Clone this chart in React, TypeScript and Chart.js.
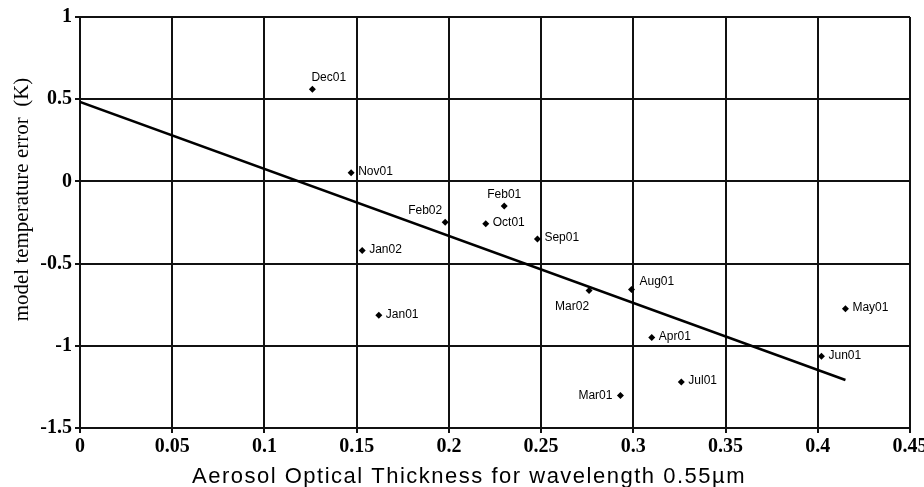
import React, { useEffect, useRef } from "react";
import { Chart, registerables } from "chart.js";

Chart.register(...registerables);

// ---- data ----
const months = ["Dec01", "Nov01", "Feb02", "Jan02", "Jan01", "Feb01", "Oct01", "Sep01", "Mar02", "Aug01", "May01", "Apr01", "Jun01", "Jul01", "Mar01"];
const aot = [0.126, 0.147, 0.198, 0.153, 0.162, 0.23, 0.22, 0.248, 0.276, 0.299, 0.415, 0.31, 0.402, 0.326, 0.293];
const tempError = [0.56, 0.053, -0.248, -0.42, -0.814, -0.15, -0.258, -0.351, -0.664, -0.658, -0.775, -0.95, -1.064, -1.22, -1.303];
// where each month label sits relative to its point
const labelPlacement = ["al", "r", "ul", "r", "r", "a", "r", "r", "bl", "ar", "r", "r", "r", "r", "l"];

const trendX = [0, 0.415];
const trendY = [0.483, -1.208];

const xTickLabels = ["0", "0.05", "0.1", "0.15", "0.2", "0.25", "0.3", "0.35", "0.4", "0.45"];
const yTickLabels = ["-1.5", "-1", "-0.5", "0", "0.5", "1"];

const xTitle = "Aerosol Optical Thickness for wavelength 0.55\u00b5m";
const yTitle = "model temperature error  (K)";

const labelOffsets: Record<string, { dx: number; dy: number; align: CanvasTextAlign }> = {
  r: { dx: 7, dy: -1, align: "left" },
  l: { dx: -8, dy: 0, align: "right" },
  a: { dx: 0, dy: -11, align: "center" },
  al: { dx: -1, dy: -12, align: "left" },
  ar: { dx: 8, dy: -8, align: "left" },
  ul: { dx: -3, dy: -11, align: "right" },
  bl: { dx: 0, dy: 16, align: "right" },
};

const annotatePlugin = {
  id: "annotate",
  afterDatasetsDraw(chart: any) {
    const ctx = chart.ctx as CanvasRenderingContext2D;
    const meta = chart.getDatasetMeta(1);
    ctx.save();
    ctx.fillStyle = "#000";
    ctx.font = '12px "Liberation Sans", Arial, sans-serif';
    ctx.textBaseline = "middle";
    meta.data.forEach((pt: any, i: number) => {
      const o = labelOffsets[labelPlacement[i]];
      ctx.textAlign = o.align;
      ctx.fillText(months[i], pt.x + o.dx, pt.y + o.dy);
    });
    ctx.restore();
  },
  afterDraw(chart: any) {
    const ctx = chart.ctx as CanvasRenderingContext2D;
    const area = chart.chartArea;
    ctx.save();
    ctx.fillStyle = "#000";
    // x title
    ctx.font = '22px "Liberation Sans", Arial, sans-serif';
    try { (ctx as any).letterSpacing = "1.5px"; } catch (e) {}
    ctx.textAlign = "center";
    ctx.textBaseline = "middle";
    ctx.fillText(xTitle, (area.left + area.right) / 2 - 26, 477);
    try { (ctx as any).letterSpacing = "0px"; } catch (e) {}
    // y title
    ctx.translate(22, area.top + (area.bottom - area.top) / 2 - 23);
    ctx.rotate(-Math.PI / 2);
    ctx.font = '21px "Liberation Serif", "Times New Roman", serif';
    ctx.fillText(yTitle, 0, 0);
    ctx.restore();
  },
};

export default function App() {
  const canvasRef = useRef<HTMLCanvasElement | null>(null);

  useEffect(() => {
    if (!canvasRef.current) return;
    const tickFont = { family: '"Liberation Serif", "Times New Roman", serif', size: 20, weight: "bold" as const };
    const chart = new Chart(canvasRef.current, {
      type: "scatter",
      data: {
        datasets: [
          {
            type: "line",
            data: trendX.map((x, i) => ({ x, y: trendY[i] })),
            borderColor: "#000",
            borderWidth: 2.5,
            pointRadius: 0,
            fill: false,
          } as any,
          {
            data: aot.map((x, i) => ({ x, y: tempError[i] })),
            pointStyle: "rectRot",
            pointRadius: 3.5,
            backgroundColor: "#000",
            borderColor: "#000",
            borderWidth: 0,
          },
        ],
      },
      options: {
        animation: false,
        responsive: false,
        maintainAspectRatio: false,
        layout: { padding: { top: 17, right: 14, bottom: 0, left: 0 } },
        plugins: { legend: { display: false }, tooltip: { enabled: false }, title: { display: false } },
        scales: {
          x: {
            type: "linear",
            min: 0,
            max: 0.45,
            afterFit: (s: any) => { s.height = 59; s.paddingLeft = 0; s.paddingRight = 0; },
            afterBuildTicks: (s: any) => { s.ticks = xTickLabels.map((t) => ({ value: parseFloat(t) })); },
            ticks: {
              color: "#000",
              font: tickFont,
              padding: 2,
              maxRotation: 0,
              autoSkip: false,
              callback: (_v: any, i: number) => xTickLabels[i],
            },
            grid: { color: "#111", lineWidth: 2, tickLength: 5, tickColor: "#111" },
            border: { color: "#111", width: 2 },
          },
          y: {
            type: "linear",
            min: -1.5,
            max: 1,
            afterFit: (s: any) => { s.width = 80; s.paddingTop = 0; s.paddingBottom = 0; },
            afterBuildTicks: (s: any) => { s.ticks = yTickLabels.map((t) => ({ value: parseFloat(t) })); },
            ticks: {
              color: "#000",
              font: tickFont,
              padding: 3,
              autoSkip: false,
              callback: (_v: any, i: number) => yTickLabels[i],
            },
            grid: { color: "#111", lineWidth: 2, tickLength: 5, tickColor: "#111" },
            border: { color: "#111", width: 2 },
          },
        },
      },
      plugins: [annotatePlugin],
    });
    return () => chart.destroy();
  }, []);

  return (
    <div style={{ position: "fixed", left: 0, top: 0, width: 924, height: 487, background: "#fff" }}>
      <canvas ref={canvasRef} width={924} height={487} style={{ width: 924, height: 487 }} />
    </div>
  );
}
